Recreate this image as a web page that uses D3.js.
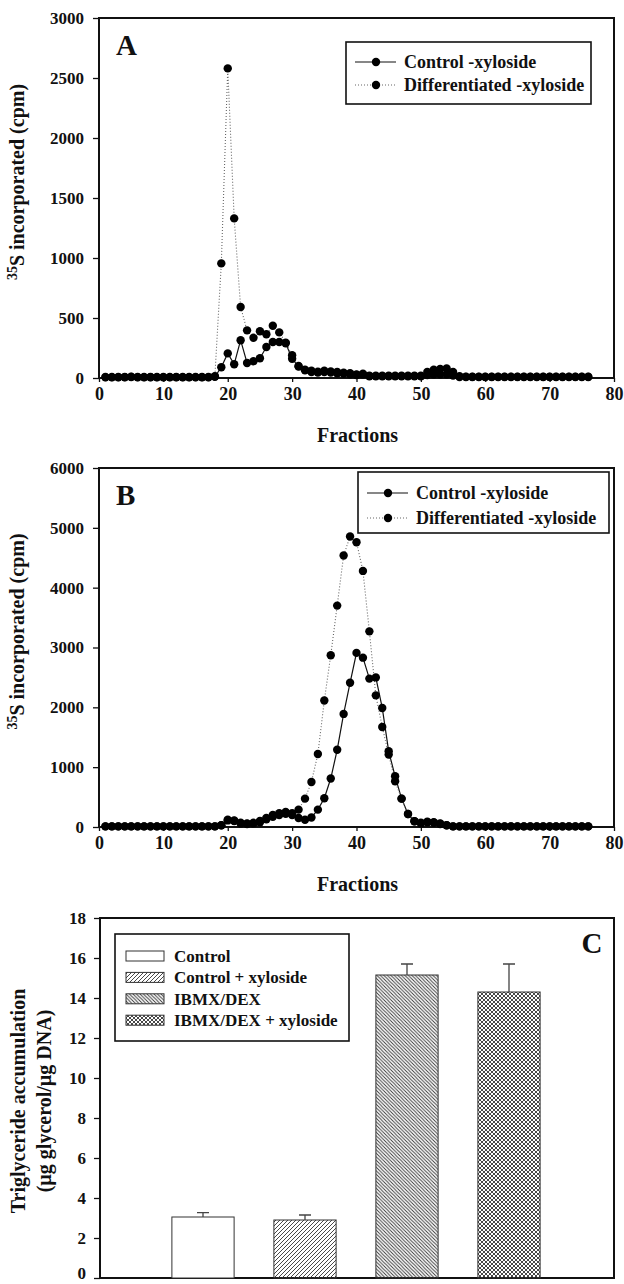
<!DOCTYPE html>
<html>
<head>
<meta charset="utf-8">
<script src="https://cdn.jsdelivr.net/npm/d3@7"></script>
<style>
body { margin: 0; background: #fff; }
svg text { font-family: "Liberation Serif", "Times New Roman", serif; font-weight: bold; fill: #111; }
</style>
</head>
<body>
<div id="chart"></div>
<script>
const width = 624;
const height = 1284;

// fraction numbers on the x axis of A and B
const fractions = [1,2,3,4,5,6,7,8,9,10,11,12,13,14,15,16,17,18,19,20,21,22,23,24,25,26,27,28,29,30,
    31,32,33,34,35,36,37,38,39,40,41,42,43,44,45,46,47,48,49,50,51,52,53,54,55,56,57,58,59,60,
    61,62,63,64,65,66,67,68,69,70,71,72,73,74,75,76];

// panel A, cpm
const aControl = [5,5,5,6,8,5,5,6,5,5,5,6,5,5,5,6,5,
    10,90,205,115,315,125,140,165,258,300,300,290,160,95,65,50,45,50,45,40,35,30,25,30,
    15,15,15,15,15,15,15,15,15,
    25,30,30,30,20,
    8,8,8,8,8,8,8,8,8,8,8,8,8,8,8,8,8,8,8,8,8];
const aDiff = [8,8,8,8,10,8,8,8,8,8,8,8,8,8,8,8,8,
    15,955,2580,1330,592,397,335,390,365,435,380,295,190,100,70,60,52,60,55,50,45,40,30,35,
    20,20,20,20,20,20,20,20,20,
    50,70,75,80,50,
    15,10,10,10,10,10,10,10,10,10,10,10,10,10,10,10,10,10,10,10,10];

// panel B, cpm
const bControl = [10,10,10,10,10,10,10,10,10,10,10,10,10,10,10,10,10,10,
    30,110,100,60,50,60,80,130,170,200,220,200,150,120,160,290,480,810,1290,1890,2410,2910,
    2830,2480,2500,1990,1265,847,474,217,95,60,80,70,50,30,
    10,10,10,10,10,10,10,10,10,10,10,10,10,10,10,10,10,10,10,10,10,10];
const bDiff = [10,10,10,10,10,10,10,10,10,10,10,10,10,10,10,10,10,10,
    30,120,110,70,60,70,100,150,200,230,250,230,290,474,752,1220,2113,2870,3700,4537,4855,4760,
    4280,3270,2200,1672,1210,764,474,217,95,70,90,80,60,30,
    10,10,10,10,10,10,10,10,10,10,10,10,10,10,10,10,10,10,10,10,10,10];

const seriesNames = ["Control -xyloside", "Differentiated -xyloside"];
const xTicks = [0,10,20,30,40,50,60,70,80];
const aTicks = [0,500,1000,1500,2000,2500,3000];
const bTicks = [0,1000,2000,3000,4000,5000,6000];

// panel C
const groups = ["Control", "Control + xyloside", "IBMX/DEX", "IBMX/DEX + xyloside"];
const means = [3.05, 2.9, 15.15, 14.3];
const errs = [0.22, 0.25, 0.55, 1.4];
const cTicks = [0,2,4,6,8,10,12,14,16,18];

const svg = d3.select("#chart")
    .append("svg")
    .attr("width", width)
    .attr("height", height);

const defs = svg.append("defs");

// hatch patterns for C
function addPattern(id, size, d) {
    defs.append("pattern")
        .attr("id", id)
        .attr("patternUnits", "userSpaceOnUse")
        .attr("width", size)
        .attr("height", size)
        .append("path")
        .attr("d", d)
        .attr("stroke", "#333")
        .attr("stroke-width", 0.9)
        .attr("fill", "none");
}
addPattern("fwd", 4, "M0,4 L4,0 M-1,1 L1,-1 M3,5 L5,3");
addPattern("back", 3.5, "M0,0 L3.5,3.5 M-1,2.5 L1,4.5 M2.5,-1 L4.5,1");
addPattern("cross", 4, "M0,4 L4,0 M-1,1 L1,-1 M3,5 L5,3 M0,0 L4,4 M-1,3 L1,5 M3,-1 L5,1");
const fills = ["#fff", "url(#fwd)", "url(#back)", "url(#cross)"];

const fmt = d3.format("d");

function styleAxis(g, size) {
    g.attr("font-family", null).attr("font-size", null);
    g.select(".domain").remove();
    g.selectAll(".tick line").attr("stroke", "#111").attr("stroke-width", 1.3);
    g.selectAll(".tick text").style("font-size", size + "px");
}

function drawLinePanel(cfg) {
    const x = d3.scaleLinear().domain([0, 80]).range([cfg.left, cfg.right]);
    const y = d3.scaleLinear().domain([0, cfg.max]).range([cfg.bottom, cfg.top]);
    const g = svg.append("g").attr("id", cfg.id);

    g.append("g")
        .attr("transform", `translate(${cfg.left},0)`)
        .call(d3.axisLeft(y).tickValues(cfg.ticks).tickFormat(fmt).tickSize(6).tickPadding(9).tickSizeOuter(0))
        .call(ax => styleAxis(ax, 17));

    g.append("g")
        .attr("transform", `translate(0,${cfg.bottom})`)
        .call(d3.axisBottom(x).tickValues(xTicks).tickFormat(fmt).tickSize(4).tickPadding(5).tickSizeOuter(0))
        .call(ax => styleAxis(ax, 18));

    g.append("rect")
        .attr("x", cfg.left)
        .attr("y", cfg.top)
        .attr("width", cfg.right - cfg.left)
        .attr("height", cfg.bottom - cfg.top)
        .attr("fill", "none")
        .attr("stroke", "#111")
        .attr("stroke-width", 2);

    const line = d3.line()
        .x((d, i) => x(fractions[i]))
        .y((d) => y(d));

    const series = [
        { name: seriesNames[0], values: cfg.control, dash: null, color: "#111", w: 1.2 },
        { name: seriesNames[1], values: cfg.diff, dash: "1,2", color: "#666", w: 1.1 }
    ];

    series.forEach((s) => {
        g.append("path")
            .attr("d", line(s.values))
            .attr("fill", "none")
            .attr("stroke", s.color)
            .attr("stroke-width", s.w)
            .attr("stroke-dasharray", s.dash);
    });

    series.forEach((s) => {
        g.append("g")
            .selectAll("circle")
            .data(s.values)
            .join("circle")
            .attr("cx", (d, i) => x(fractions[i]))
            .attr("cy", (d) => y(d))
            .attr("r", 4.2)
            .attr("fill", "#000");
    });

    // legend
    const lg = cfg.legend;
    g.append("rect")
        .attr("x", lg.x)
        .attr("y", lg.y)
        .attr("width", lg.w)
        .attr("height", lg.h)
        .attr("fill", "#fff")
        .attr("stroke", "#111")
        .attr("stroke-width", 1.6);

    series.forEach((s, i) => {
        const cy = lg.y + lg.rows[i];
        g.append("line")
            .attr("x1", lg.x + 9).attr("x2", lg.x + 50)
            .attr("y1", cy).attr("y2", cy)
            .attr("stroke", s.color)
            .attr("stroke-width", s.w)
            .attr("stroke-dasharray", s.dash);
        g.append("circle")
            .attr("cx", lg.x + 30).attr("cy", cy)
            .attr("r", 4.2).attr("fill", "#000");
        g.append("text")
            .attr("x", lg.x + 58)
            .attr("y", cy + 6)
            .style("font-size", "18px")
            .text(s.name);
    });

    g.append("text")
        .attr("x", cfg.left + 17)
        .attr("y", cfg.top + 37)
        .style("font-size", "29px")
        .text(cfg.letter);

    g.append("text")
        .attr("x", (cfg.left + cfg.right) / 2 + 1)
        .attr("y", cfg.bottom + 64)
        .attr("text-anchor", "middle")
        .style("font-size", "20px")
        .text("Fractions");

    const yl = g.append("text")
        .attr("transform", `translate(24,${(cfg.top + cfg.bottom) / 2 - 16}) rotate(-90)`)
        .attr("text-anchor", "middle")
        .style("font-size", "20px");
    yl.append("tspan").attr("dy", "-7").style("font-size", "14px").text("35");
    yl.append("tspan").attr("dy", "7").text("S incorporated (cpm)");
}

drawLinePanel({
    id: "panelA", letter: "A", top: 18, bottom: 378, left: 99, right: 614,
    max: 3000, ticks: aTicks, control: aControl, diff: aDiff,
    legend: { x: 346, y: 42, w: 245, h: 62, rows: [20, 43] }
});

drawLinePanel({
    id: "panelB", letter: "B", top: 468, bottom: 827, left: 99, right: 614,
    max: 6000, ticks: bTicks, control: bControl, diff: bDiff,
    legend: { x: 358, y: 472, w: 251, h: 61, rows: [21, 46] }
});

// panel C
const c = { top: 918, bottom: 1278, left: 100, right: 614 };
const xC = d3.scaleBand().domain(groups).range([152, 560]).paddingInner(0.39).paddingOuter(0.195);
const yC = d3.scaleLinear().domain([0, 18]).range([c.bottom, c.top]);
const gC = svg.append("g").attr("id", "panelC");

gC.append("g")
    .attr("transform", `translate(${c.left},0)`)
    .call(d3.axisLeft(yC).tickValues(cTicks).tickFormat(fmt).tickSize(6).tickPadding(8).tickSizeOuter(0))
    .call(ax => styleAxis(ax, 17))
    .call(ax => ax.selectAll(".tick text").filter((d) => d === 0).attr("dy", "0.05em"));

gC.append("rect")
    .attr("x", c.left)
    .attr("y", c.top)
    .attr("width", c.right - c.left)
    .attr("height", c.bottom - c.top)
    .attr("fill", "none")
    .attr("stroke", "#111")
    .attr("stroke-width", 2);

gC.selectAll(".bar")
    .data(groups)
    .join("rect")
    .attr("class", "bar")
    .attr("x", (d) => xC(d))
    .attr("y", (d, i) => yC(means[i]))
    .attr("width", xC.bandwidth())
    .attr("height", (d, i) => yC(0) - yC(means[i]))
    .attr("fill", (d, i) => fills[i])
    .attr("stroke", "#333")
    .attr("stroke-width", 1);

gC.selectAll(".err")
    .data(groups)
    .join("path")
    .attr("class", "err")
    .attr("d", (d, i) => {
        const cx = xC(d) + xC.bandwidth() / 2;
        const top = yC(means[i] + errs[i]);
        return `M${cx},${yC(means[i])} V${top} M${cx - 6},${top} H${cx + 6}`;
    })
    .attr("fill", "none")
    .attr("stroke", "#444")
    .attr("stroke-width", 1.3);

// legend C
const lgC = gC.append("g");
lgC.append("rect")
    .attr("x", 115).attr("y", 934)
    .attr("width", 234).attr("height", 107)
    .attr("fill", "#fff")
    .attr("stroke", "#111")
    .attr("stroke-width", 1.6);

groups.forEach((name, i) => {
    const cy = 956 + i * 21.4;
    lgC.append("rect")
        .attr("x", 126).attr("y", cy - 5)
        .attr("width", 38).attr("height", 10)
        .attr("fill", fills[i])
        .attr("stroke", "#333")
        .attr("stroke-width", 1);
    lgC.append("text")
        .attr("x", 174)
        .attr("y", cy + 6)
        .style("font-size", "17px")
        .text(name);
});

gC.append("text")
    .attr("x", 592)
    .attr("y", 953)
    .attr("text-anchor", "middle")
    .style("font-size", "29px")
    .text("C");

const ylC = gC.append("text")
    .attr("transform", `translate(25,1101) rotate(-90)`)
    .attr("text-anchor", "middle")
    .style("font-size", "20px");
ylC.append("tspan").attr("x", 0).attr("dy", 0).text("Triglyceride accumulation");
ylC.append("tspan").attr("x", 0).attr("dy", 26).text("(µg glycerol/µg DNA)");
</script>
</body>
</html>
